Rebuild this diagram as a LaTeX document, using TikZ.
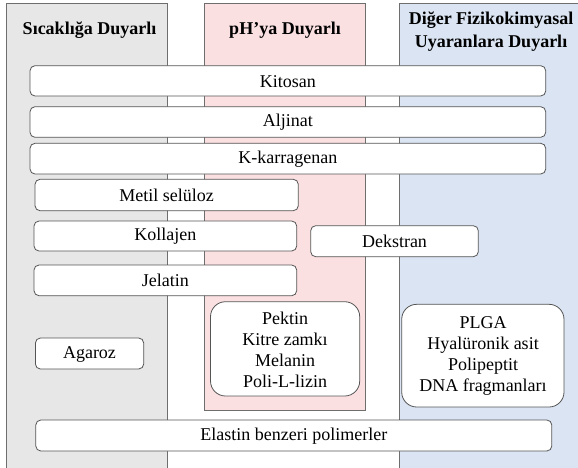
\documentclass[tikz,border=0pt]{standalone}
\usepackage{fontspec}
\setmainfont{Liberation Serif}
\definecolor{colgray}{RGB}{231,231,231}
\definecolor{colpink}{RGB}{251,224,226}
\definecolor{colblue}{RGB}{218,228,242}
\definecolor{edge}{RGB}{110,110,110}
\definecolor{boxedge}{RGB}{85,85,85}
\begin{document}
\begin{tikzpicture}[x=1pt,y=-1pt,
  column/.style={draw=edge, line width=0.8pt},
  item/.style={draw=boxedge, fill=white, rounded corners=5pt, line width=0.8pt},
  bigitem/.style={draw=boxedge, fill=white, rounded corners=15pt, line width=0.8pt},
  lbl/.style={font=\fontsize{18}{21}\selectfont, align=center, inner sep=0pt},
  head/.style={font=\fontsize{18}{23}\selectfont\bfseries, align=center, inner sep=0pt}]
\useasboundingbox (0,0) rectangle (578,467);
% columns
\filldraw[column, fill=colgray] (6.7,470) -- (6.7,3.3) -- (167.3,3.3) -- (167.3,470);
\filldraw[column, fill=colpink] (204.7,410) rectangle (365.7,3.3);
\filldraw[column, fill=colblue] (399,470) -- (399,3.3) -- (590,3.3) -- (590,470);
% headings
\node[head] (h1) at (89.5,30) {Sıcaklığa Duyarlı};
\node[head] (h2) at (285,30) {pH’ya Duyarlı};
\node[head] (h3) at (491,32) {Diğer Fizikokimyasal\\Uyaranlara Duyarlı};
% items
\draw[item] (30,65.7) rectangle (545.7,96);
\node[lbl] (kitosan) at (287.8,81.5) {Kitosan};
\draw[item] (30,106.7) rectangle (545.7,137.3);
\node[lbl] (aljinat) at (287.8,122.5) {Aljinat};
\draw[item] (30,143.3) rectangle (545.7,174);
\node[lbl] (karr) at (287.8,159) {K-karragenan};
\draw[item] (35,179.3) rectangle (298.3,210.7);
\node[lbl] (metil) at (166.7,195.5) {Metil selüloz};
\draw[item] (34,221) rectangle (296.7,251);
\node[lbl] (kollajen) at (165.3,236.5) {Kollajen};
\draw[item] (310.7,225.7) rectangle (478.3,256.7);
\node[lbl] (dekstran) at (394.5,241.7) {Dekstran};
\draw[item] (34,265) rectangle (296.7,295.7);
\node[lbl] (jelatin) at (165.3,280.8) {Jelatin};
\draw[bigitem] (210.5,301.7) rectangle (359.7,396);
\node[lbl] (pektin) at (285,349.5) {Pektin\\Kitre zamkı\\Melanin\\Poli-L-lizin};
\draw[bigitem] (401.7,304.3) rectangle (564,407);
\node[lbl] (plga) at (483,356) {PLGA\\Hyalüronik asit\\Polipeptit\\DNA fragmanları};
\draw[item] (35.4,338) rectangle (143.7,369);
\node[lbl] (agaroz) at (89.5,354) {Agaroz};
\draw[item] (35.8,420) rectangle (551.8,451);
\node[lbl] (elastin) at (293.8,436) {Elastin benzeri polimerler};
\end{tikzpicture}
\end{document}
